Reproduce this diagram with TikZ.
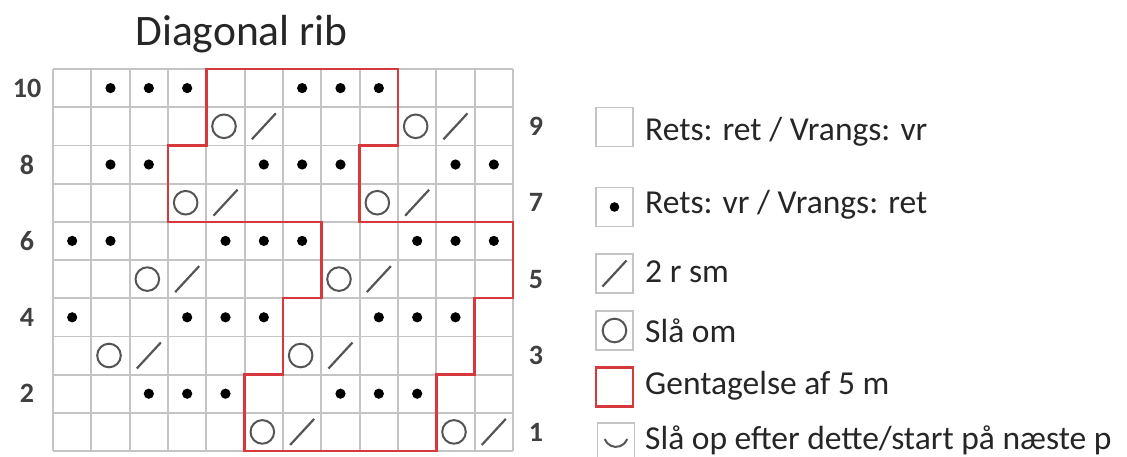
\documentclass[tikz,border=0pt]{standalone}
\usepackage{fontspec}
\setmainfont{Carlito}
\definecolor{gridgray}{HTML}{C4C4C4}
\definecolor{symgray}{HTML}{555555}
\definecolor{repred}{HTML}{D7383B}
\definecolor{txt}{HTML}{262626}
\definecolor{numgray}{HTML}{404040}
\begin{document}
\begin{tikzpicture}[x=1pt,y=-1pt,
  gridline/.style={draw=gridgray,line width=1.8pt},
  redline/.style={draw=repred,line width=2.4pt,line join=miter},
  knotdot/.style={fill=black},
  yarnover/.style={draw=symgray,line width=2pt},
  slashline/.style={draw=symgray,line width=2.2pt},
  rowlab/.style={font=\fontsize{28}{30}\selectfont\bfseries,text=numgray,inner sep=0pt},
  legtext/.style={font=\fontsize{33.5}{36}\selectfont,text=txt,anchor=base west,inner sep=0pt},
  legbox/.style={draw=gridgray,line width=1.8pt,minimum width=37pt,minimum height=39pt,inner sep=0pt}
]
\useasboundingbox (0,0) rectangle (1127,456);
\fill[white] (0,0) rectangle (1127,456);

% title
\node[font=\fontsize{43.5}{48}\selectfont,text=txt,anchor=base,inner sep=0pt] (title) at (241.5,45) {Diagonal rib};

% chart
\begin{scope}[shift={(53,451)},x=38.333pt,y=38.2pt]
  \foreach \c in {0,...,12} \draw[gridline] (\c,0) -- (\c,10);
  \foreach \r in {0,...,10} \draw[gridline] (0,\r) -- (12,\r);
  % purl dots
  \foreach \r/\cols in {10/{2,3,4,7,8,9},8/{2,3,6,7,8,11,12},6/{1,2,5,6,7,10,11,12},4/{1,4,5,6,9,10,11},2/{3,4,5,8,9,10}}{
    \foreach \c in \cols { \fill[knotdot] (\c-0.5,\r-0.5) circle[radius=5.1pt]; }
  }
  % yarn overs and k2tog
  \foreach \r/\cols in {9/{5,10},7/{4,9},5/{3,8},3/{2,7},1/{6,11}}{
    \foreach \c in \cols {
      \draw[yarnover] ([xshift=-1.5pt]\c-0.5,\r-0.5) circle[radius=11.8pt];
      \draw[slashline] ([shift={(-12pt,-13pt)}]\c+0.5,\r-0.5) -- ++(24pt,26pt);
    }
  }
  % repeat outline
  \draw[redline] (4,10) -- (9,10) -- (9,8) -- (8,8) -- (8,6) -- (12,6) -- (12,4) -- (11,4) -- (11,2) -- (10,2) -- (10,0) -- (5,0) -- (5,2) -- (6,2) -- (6,4) -- (7,4) -- (7,6) -- (3,6) -- (3,8) -- (4,8) -- cycle;
\end{scope}

% row numbers
\foreach \r in {2,4,6,8,10} \node[rowlab] (rl\r) at (27,{451-(\r-0.5)*38.2}) {\r};
\foreach \r in {1,3,5,7,9} \node[rowlab] (rr\r) at (536,{451-(\r-0.5)*38.2}) {\r};

% legend
\node[legbox] (b1) at (614.5,127) {};
\node[legtext] (t1) at (645,140) {Rets: ret / Vrangs: vr};

\node[legbox] (b2) at (614.5,207) {};
\fill[knotdot] (b2.center) circle[radius=4.8pt];
\node[legtext] (t2) at (645,213) {Rets: vr / Vrangs: ret};

\node[legbox] (b3) at (614.5,273.5) {};
\draw[slashline] ([shift={(-12pt,-13pt)}]b3.center) -- ([shift={(12pt,13pt)}]b3.center);
\node[legtext] (t3) at (645,282) {2 r sm};

\node[legbox] (b4) at (614.5,330.5) {};
\draw[yarnover] (b4.center) circle[radius=11.8pt];
\node[legtext] (t4) at (645,342) {Slå om};

\node[legbox,draw=repred,line width=2.2pt] (b5) at (614.5,387) {};
\node[legtext] (t5) at (645,394) {Gentagelse af 5 m};

\node[legbox] (b6) at (616,442.5) {};
\draw[yarnover] ([shift={(-11.3pt,3.5pt)}]b6.center) arc[start angle=200,end angle=340,radius=12pt];
\node[legtext] (t6) at (645,449) {Slå op efter dette/start på næste p};
\end{tikzpicture}
\end{document}
